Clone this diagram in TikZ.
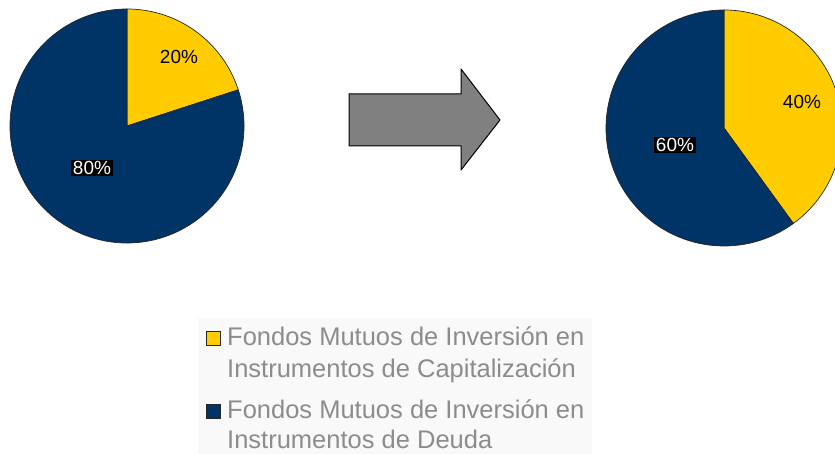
\documentclass[tikz,border=0pt]{standalone}
\usepackage{fontspec}
\setmainfont{Liberation Sans}
\usetikzlibrary{positioning}
\definecolor{capyellow}{RGB}{255,204,0}
\definecolor{debtblue}{RGB}{0,51,102}
\definecolor{legendgray}{RGB}{140,140,140}
\definecolor{legendback}{RGB}{249,249,249}

\begin{document}
\begin{tikzpicture}[x=1pt,y=1pt,
    slice/.style={draw=black!85,line width=0.7pt,line join=round},
    pct/.style={font=\fontsize{19}{20}\selectfont,inner sep=1.5pt},
    darkpct/.style={pct,fill=black,text=white},
    swatch/.style={draw=black!85,line width=1pt,minimum size=14pt,inner sep=0pt},
    legtext/.style={font=\fontsize{25.5}{30}\selectfont,text=legendgray,inner sep=0pt}]
  \useasboundingbox (0,0) rectangle (835,454);
  \clip (0,0) rectangle (835,454);

  % left pie, 20 / 80
  \coordinate (L) at (127,328);
  \filldraw[slice,fill=capyellow] (L) -- ++(90:117) arc[start angle=90,end angle=18,radius=117] -- cycle;
  \filldraw[slice,fill=debtblue] (L) -- ++(18:117) arc[start angle=18,end angle=-270,radius=117] -- cycle;
  \node[pct]     (twenty) at (179,397) {20\%};
  \node[darkpct] (eighty) at (92,286)  {80\%};

  % arrow
  \filldraw[fill=black!50,draw=black,line width=1pt,line join=round]
    (349,360) -- (461,360) -- (461,385) -- (500,334) -- (461,284) -- (461,308) -- (349,308) -- cycle;

  % right pie, 40 / 60
  \coordinate (R) at (724,326);
  \filldraw[slice,fill=capyellow] (R) -- ++(90:118) arc[start angle=90,end angle=-54,radius=118] -- cycle;
  \filldraw[slice,fill=debtblue] (R) -- ++(-54:118) arc[start angle=-54,end angle=-270,radius=118] -- cycle;
  \node[pct]     (forty) at (802,352) {40\%};
  \node[darkpct] (sixty) at (675,309) {60\%};

  % legend
  \fill[legendback] (198,0) rectangle (592,136);
  \node[swatch,fill=capyellow] (capbox)  at (213,115) {};
  \node[swatch,fill=debtblue]  (debtbox) at (213,42)  {};
  \node[legtext,anchor=base west] (capone) at (227,108) {Fondos Mutuos de Inversión en};
  \node[legtext,below=32pt of capone.base west,anchor=base west] (captwo) {Instrumentos de Capitalización};
  \node[legtext,anchor=base west] (debtone) at (227,35) {Fondos Mutuos de Inversión en};
  \node[legtext,below=30pt of debtone.base west,anchor=base west] (debttwo) {Instrumentos de Deuda};
\end{tikzpicture}
\end{document}
